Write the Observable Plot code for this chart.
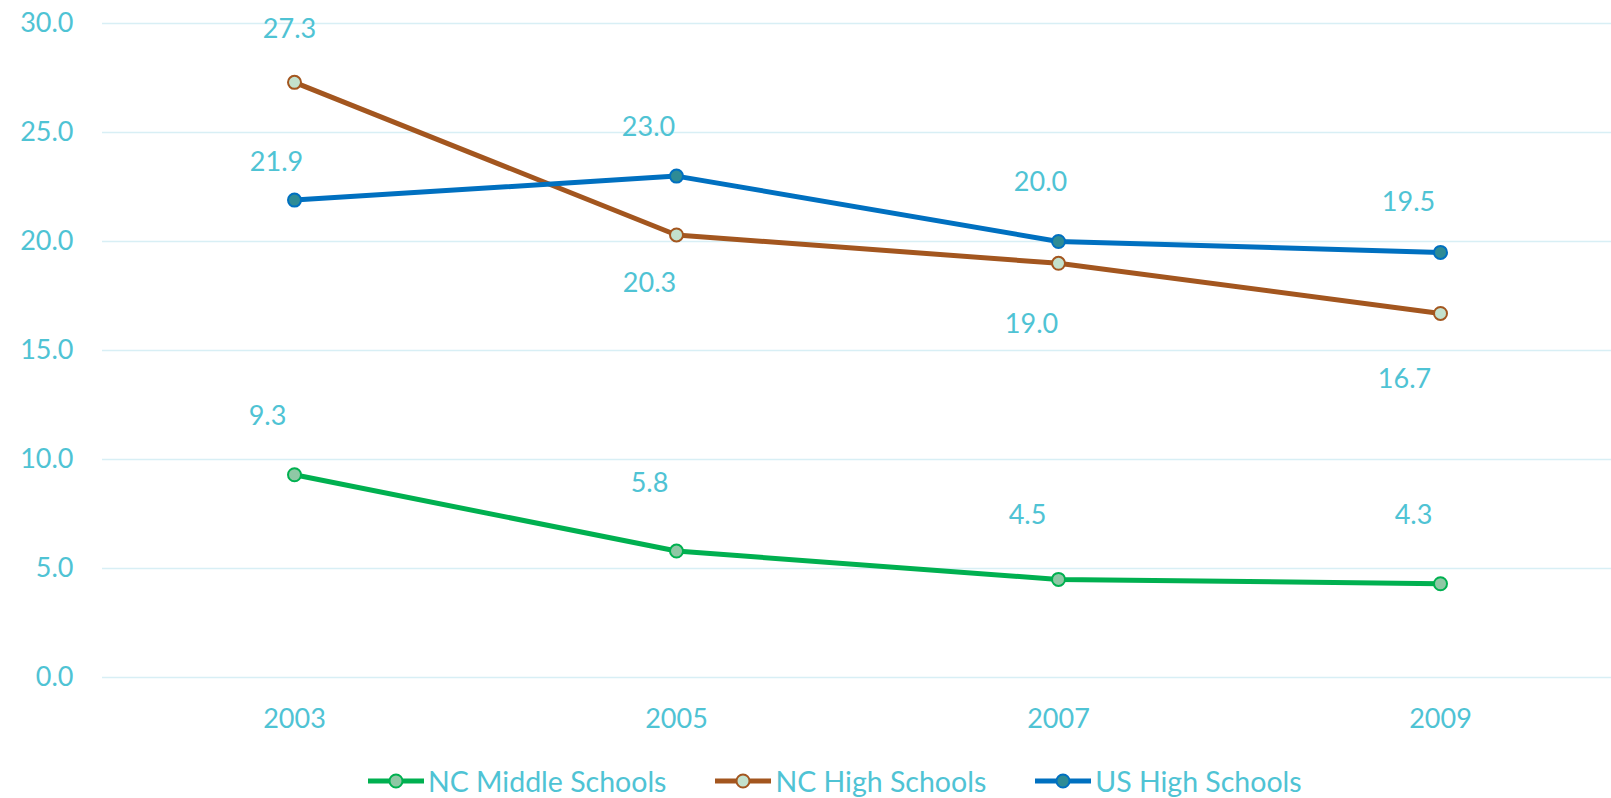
<!DOCTYPE html>
<html>
<head>
<meta charset="utf-8">
<script src="https://cdn.jsdelivr.net/npm/d3@7"></script>
<script src="https://cdn.jsdelivr.net/npm/@observablehq/plot@0.6"></script>
<style>
  html, body { margin: 0; padding: 0; background: #fff; }
  body { width: 1611px; height: 798px; overflow: hidden; font-family: Lato, "Open Sans", sans-serif; }
  #legend { display: flex; align-items: center; margin-left: 368px; margin-top: 24px; height: 34px; }
  .item { display: flex; align-items: center; margin-right: 49px; }
  .item span { font-size: 28.5px; color: #4FC3D4; margin-left: 4px; line-height: 34px; }
</style>
</head>
<body>
<div id="chart"></div>
<div id="legend"></div>
<script>
// ---- data ----
const years = ["2003", "2005", "2007", "2009"];
const seriesNames = ["NC Middle Schools", "NC High Schools", "US High Schools"];
const ncMiddle = [9.3, 5.8, 4.5, 4.3];
const ncHigh = [27.3, 20.3, 19.0, 16.7];
const usHigh = [21.9, 23.0, 20.0, 19.5];
const yTicks = [0, 5, 10, 15, 20, 25, 30];

// ---- styles ----
const textColor = "#4FC3D4";
const styles = {
  "NC Middle Schools": {line: "#00B050", fill: "#8FC8A5", stroke: "#00B050"},
  "NC High Schools": {line: "#A3561F", fill: "#C3E1CD", stroke: "#A3561F"},
  "US High Schools": {line: "#0070C0", fill: "#2E8B95", stroke: "#0070C0"}
};
// per-point label offsets [dx, dy] in px (manual placement, as in the original)
const labelOffsets = {
  "NC Middle Schools": [[-27, -58], [-27, -68], [-31, -64], [-27, -68]],
  "NC High Schools": [[-5, -53], [-27, 48], [-27, 61], [-36, 66]],
  "US High Schools": [[-18, -38], [-28, -49], [-18, -59], [-32, -50]]
};

const valuesBySeries = {
  "NC Middle Schools": ncMiddle,
  "NC High Schools": ncHigh,
  "US High Schools": usHigh
};
const table = seriesNames.flatMap(s => years.map((yr, i) => ({series: s, year: yr, value: valuesBySeries[s][i], i})));

const marks = [
  Plot.ruleY(yTicks, {stroke: "#D8EFF5", strokeWidth: 1.6}),
  Plot.axisY({ticks: yTicks, tickFormat: d => d.toFixed(1), tickSize: 0, tickPadding: 29, fontSize: 27, label: null}),
  Plot.axisX({tickSize: 0, tickPadding: 31, fontSize: 27, label: null})
];
for (const s of seriesNames) {
  const data = table.filter(d => d.series === s);
  const st = styles[s];
  marks.push(Plot.line(data, {x: "year", y: "value", stroke: st.line, strokeWidth: 5, strokeLinejoin: "round"}));
  marks.push(Plot.dot(data, {x: "year", y: "value", r: 6.5, fill: st.fill, stroke: st.stroke, strokeWidth: 2}));
}
for (const s of seriesNames) {
  table.filter(d => d.series === s).forEach(d => {
    const [dx, dy] = labelOffsets[s][d.i];
    marks.push(Plot.text([d], {x: "year", y: "value", text: d => d.value.toFixed(1), dx, dy,
      fontSize: 27, fill: textColor, textAnchor: "middle", lineAnchor: "middle"}));
  });
}

const chart = Plot.plot({
  width: 1611,
  height: 740,
  marginLeft: 102,
  marginRight: 0,
  marginTop: 23,
  marginBottom: 63,
  style: {color: textColor, fontFamily: "Lato, 'Open Sans', sans-serif", background: "#fff"},
  x: {type: "point", domain: years, range: [293, 1441], padding: 0, label: null, axis: null},
  y: {domain: [0, 30], label: null, axis: null},
  marks
});
document.getElementById("chart").appendChild(chart);

// ---- legend ----
const legend = d3.select("#legend");
for (const s of seriesNames) {
  const st = styles[s];
  const item = legend.append("div").attr("class", "item");
  const sw = item.append("svg").attr("width", 56).attr("height", 20);
  sw.append("line").attr("x1", 0).attr("x2", 56).attr("y1", 10).attr("y2", 10)
    .attr("stroke", st.line).attr("stroke-width", 5);
  sw.append("circle").attr("cx", 28).attr("cy", 10).attr("r", 6.5)
    .attr("fill", st.fill).attr("stroke", st.stroke).attr("stroke-width", 2);
  item.append("span").text(s);
}
</script>
</body>
</html>
